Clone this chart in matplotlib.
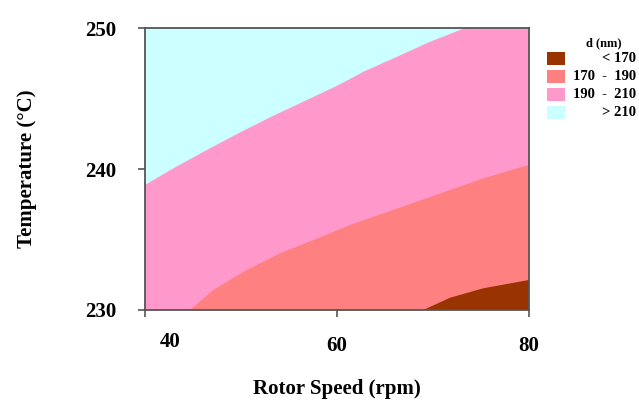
import numpy as np
import matplotlib
matplotlib.use("Agg")
import matplotlib.pyplot as plt
from matplotlib.patches import Rectangle

plt.rcParams["font.family"] = ["Liberation Serif", "DejaVu Serif"]
plt.rcParams["font.weight"] = "bold"

# contour boundaries of d (nm), as (rotor speed, temperature) points
rpm_210 = [40.0, 42.95, 46.43, 49.90, 53.36, 56.84, 60.31, 62.74, 66.22, 69.69, 73.33]
temp_210 = [238.87, 240.05, 241.35, 242.60, 243.78, 244.89, 246.01, 246.90, 247.96, 249.03, 250.0]
rpm_190 = [44.69, 47.11, 50.59, 54.06, 57.53, 61.35, 64.82, 68.30, 71.77, 75.24, 80.0]
temp_190 = [230.0, 231.42, 232.84, 234.02, 234.96, 236.03, 236.86, 237.68, 238.51, 239.34, 240.30]
rpm_170 = [68.99, 71.77, 75.24, 80.0]
temp_170 = [230.0, 230.87, 231.54, 232.13]

rpm_lim = (40, 80)
temp_lim = (230, 250)
rpm_ticks = [40, 60, 80]
temp_ticks = [230, 240, 250]

levels = ["< 170", "170  -  190", "190  -  210", "> 210"]
colors = ["#993300", "#ff8080", "#ff99cc", "#ccffff"]

fig = plt.figure(figsize=(6.39, 4.01), dpi=100)
ax = fig.add_axes([0.227, 0.227, 0.601, 0.703])
ax.set_facecolor(colors[3])

# pink: everything below the 210 line
x = rpm_210 + [rpm_lim[1], rpm_lim[1], rpm_lim[0]]
y = temp_210 + [temp_lim[1], temp_lim[0], temp_lim[0]]
ax.fill(x, y, color=colors[2], lw=0)
# salmon: below the 190 line
ax.fill(rpm_190 + [rpm_lim[1]], temp_190 + [temp_lim[0]], color=colors[1], lw=0)
# brown: below the 170 line
ax.fill(rpm_170 + [rpm_lim[1]], temp_170 + [temp_lim[0]], color=colors[0], lw=0)

ax.set_xlim(*rpm_lim)
ax.set_ylim(*temp_lim)
ax.set_xticks(rpm_ticks)
ax.set_yticks(temp_ticks)
ax.set_xticklabels(["", "60", "80"], fontsize=15, fontweight="bold")
ax.set_yticklabels([str(t) for t in temp_ticks], fontsize=15, fontweight="bold")
# first speed label sits a bit right of its tick
ax.annotate(str(rpm_ticks[0]), xy=(rpm_ticks[0], temp_lim[0]), xytext=(18, -23),
            textcoords="offset points", ha="center", va="center",
            fontsize=15, fontweight="bold", annotation_clip=False)
ax.tick_params(axis="x", direction="out", length=5, width=1.2, color="#555555", pad=14)
ax.tick_params(axis="y", direction="out", length=5, width=1.2, color="#555555", pad=16)
for s in ax.spines.values():
    s.set_color("#555555")
    s.set_linewidth(1.3)

ax.set_xlabel("Rotor Speed (rpm)", fontsize=15, fontweight="bold", labelpad=16)
ax.set_ylabel("Temperature (°C)", fontsize=15, fontweight="bold", labelpad=34)

# legend drawn in figure pixels
W, H = 639, 401
fig.text(604 / W, 1 - 43 / H, "d (nm)", fontsize=9, fontweight="bold",
         ha="center", va="center")
for i, (lab, c) in enumerate(zip(levels, colors)):
    top = 52 + i * 18
    fig.add_artist(Rectangle((547 / W, 1 - (top + 13) / H), 18 / W, 13 / H,
                             transform=fig.transFigure, color=c, lw=0))
    fig.text(636 / W, 1 - (top + 6.5) / H, lab, fontsize=10.5, fontweight="bold",
             ha="right", va="center")

fig.savefig("out.png", dpi=100)
